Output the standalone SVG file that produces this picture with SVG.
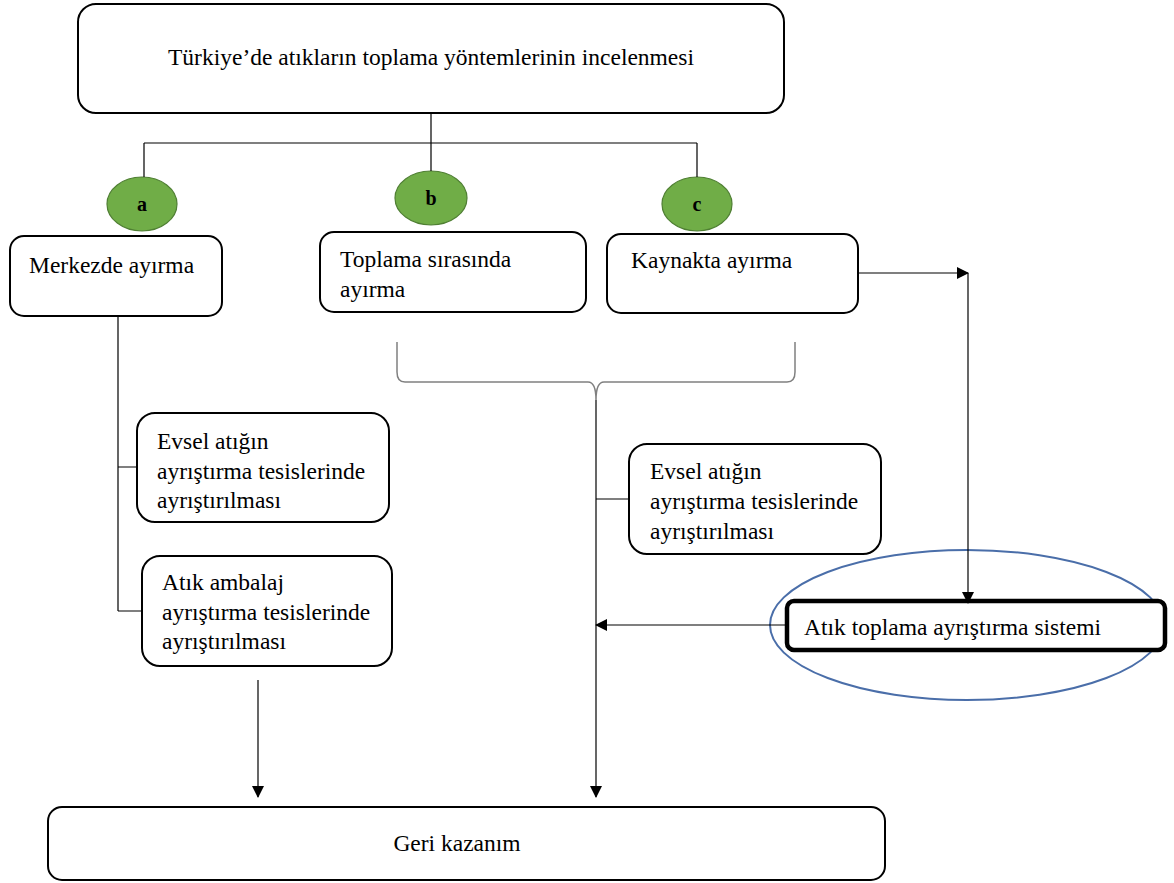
<svg xmlns="http://www.w3.org/2000/svg" width="1174" height="883" viewBox="0 0 1174 883">
  <style>
    .box { fill: #ffffff; stroke: #000000; stroke-width: 2; }
    .thick { fill: #ffffff; stroke: #000000; stroke-width: 4.5; }
    .badge { fill: #70ad47; stroke: #4f7f33; stroke-width: 1.2; }
    .txt { font-family: "Liberation Serif", "Times New Roman", serif; font-size: 23.5px; fill: #000000; }
    .lbl { font-family: "Liberation Serif", "Times New Roman", serif; font-size: 20px; font-weight: bold; fill: #000000; text-anchor: middle; }
    .ln { fill: none; stroke: #000000; stroke-width: 1.2; }
    .brace { fill: none; stroke: #808080; stroke-width: 1.5; }
  </style>
  <defs>
    <marker id="arrow" markerWidth="12" markerHeight="12" refX="11" refY="6" orient="auto" markerUnits="userSpaceOnUse">
      <path d="M0,0 L12,6 L0,12 z" fill="#000000"/>
    </marker>
  </defs>
  <rect width="1174" height="883" fill="#ffffff"/>

  <!-- title -->
  <g id="title">
    <rect class="box" x="78" y="4" width="706" height="109" rx="18"/>
    <text class="txt" x="431" y="65" text-anchor="middle">Türkiye’de atıkların toplama yöntemlerinin incelenmesi</text>
  </g>

  <!-- category badges -->
  <g id="badge-a">
    <ellipse class="badge" cx="142" cy="204" rx="35" ry="27"/>
    <text class="lbl" x="142" y="211">a</text>
  </g>
  <g id="badge-b">
    <ellipse class="badge" cx="431" cy="198" rx="36" ry="27"/>
    <text class="lbl" x="431" y="205">b</text>
  </g>
  <g id="badge-c">
    <ellipse class="badge" cx="697" cy="204" rx="35" ry="27"/>
    <text class="lbl" x="697" y="211">c</text>
  </g>

  <!-- methods -->
  <g id="merkezde">
    <rect class="box" x="10" y="236" width="212" height="80" rx="14"/>
    <text class="txt" x="29" y="273">Merkezde ayırma</text>
  </g>
  <g id="toplama-sirasinda">
    <rect class="box" x="320" y="232" width="266" height="80" rx="14"/>
    <text class="txt" x="340" y="267">Toplama sırasında</text>
    <text class="txt" x="340" y="297">ayırma</text>
  </g>
  <g id="kaynakta">
    <rect class="box" x="607" y="234" width="251" height="79" rx="14"/>
    <text class="txt" x="631" y="268">Kaynakta ayırma</text>
  </g>

  <!-- sorting facilities -->
  <g id="evsel-left">
    <rect class="box" x="137" y="413" width="252" height="109" rx="18"/>
    <text class="txt" x="157" y="449">Evsel atığın</text>
    <text class="txt" x="157" y="479">ayrıştırma tesislerinde</text>
    <text class="txt" x="157" y="508">ayrıştırılması</text>
  </g>
  <g id="ambalaj">
    <rect class="box" x="142" y="556" width="250" height="110" rx="18"/>
    <text class="txt" x="162" y="590">Atık ambalaj</text>
    <text class="txt" x="162" y="620">ayrıştırma tesislerinde</text>
    <text class="txt" x="162" y="649">ayrıştırılması</text>
  </g>
  <g id="evsel-right">
    <rect class="box" x="629" y="444" width="252" height="110" rx="18"/>
    <text class="txt" x="650" y="479">Evsel atığın</text>
    <text class="txt" x="650" y="509">ayrıştırma tesislerinde</text>
    <text class="txt" x="650" y="539">ayrıştırılması</text>
  </g>

  <!-- collection system -->
  <g id="sistem">
    <ellipse cx="967" cy="625" rx="197" ry="75" fill="none" stroke="#4a6ea9" stroke-width="2"/>
    <rect class="thick" x="787" y="601" width="378" height="49" rx="7"/>
    <text class="txt" x="804" y="635">Atık toplama ayrıştırma sistemi</text>
  </g>

  <!-- recovery -->
  <g id="geri-kazanim">
    <rect class="box" x="48" y="807" width="837" height="73" rx="14"/>
    <text class="txt" x="457" y="851" text-anchor="middle">Geri kazanım</text>
  </g>

  <!-- connectors -->
  <g id="connectors">
    <path class="ln" d="M431,113 V143 M144,143 H697 M144,143 V177 M431,143 V171 M697,143 V177"/>
    <path class="ln" d="M858,273 H968" marker-end="url(#arrow)"/>
    <path class="ln" d="M968,273 V603" marker-end="url(#arrow)"/>
    <path class="ln" d="M118,316 V611 M118,467 H137 M118,611 H142"/>
    <path class="brace" d="M397,342 V372 Q397,382 405,382 H588 Q596,382 596,400 Q596,382 604,382 H787 Q795,382 795,372 V342"/>
    <path class="ln" d="M596,400 V797" marker-end="url(#arrow)"/>
    <path class="ln" d="M596,499 H629"/>
    <path class="ln" d="M787,625 H596" marker-end="url(#arrow)"/>
    <path class="ln" d="M258,680 V797" marker-end="url(#arrow)"/>
  </g>
</svg>
